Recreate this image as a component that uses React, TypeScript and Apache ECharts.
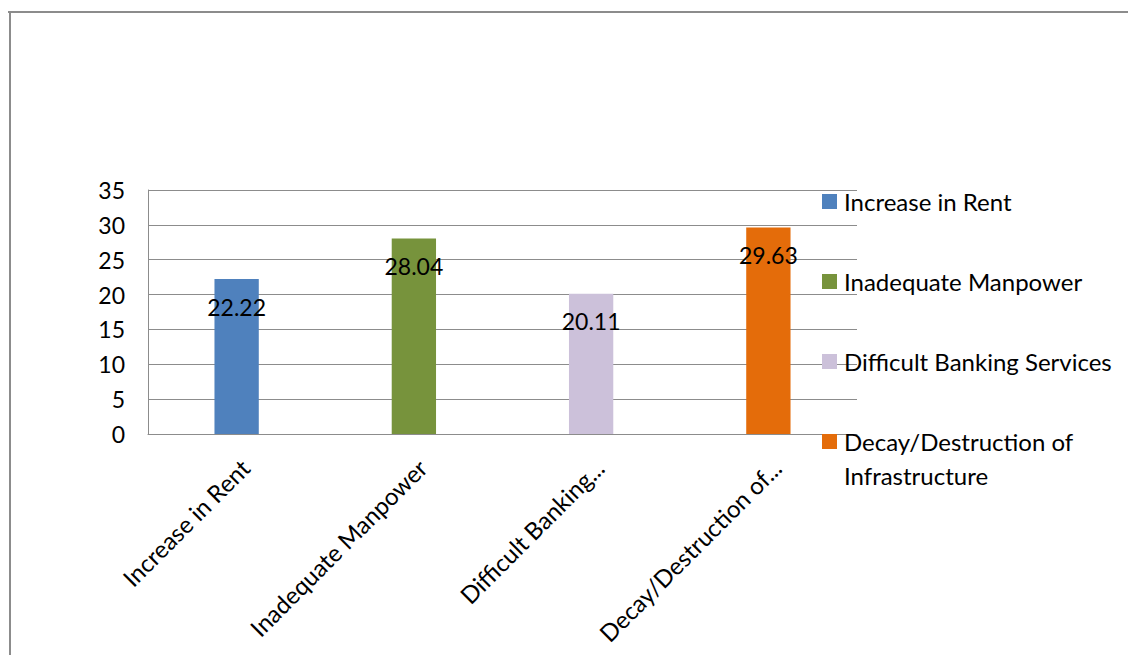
import React, { useEffect, useRef } from "react";
import * as echarts from "echarts";

const categories = [
  "Increase in Rent",
  "Inadequate Manpower",
  "Difficult Banking Services",
  "Decay/Destruction of Infrastructure",
];
const tickLabels = [
  "Increase in Rent",
  "Inadequate Manpower",
  "Difficult Banking...",
  "Decay/Destruction of...",
];
const values = [22.22, 28.04, 20.11, 29.63];
const colors = ["#4F81BD", "#77933C", "#CCC1DA", "#E46C0A"];
const yTicks = { min: 0, max: 35, interval: 5 };

const FONT = "Lato, 'Open Sans', sans-serif";

export default function App() {
  const ref = useRef<HTMLDivElement>(null);
  useEffect(() => {
    if (!ref.current) return;
    const chart = echarts.init(ref.current, undefined, { renderer: "svg" });
    const series = categories.map((name, i) => ({
      name,
      type: "bar",
      stack: "all",
      barWidth: "25%",
      data: values.map((v, j) => (j === i ? v : null)),
      itemStyle: { color: colors[i] },
      label: {
        show: true,
        position: "insideTop",
        distance: 16,
        color: "#000",
        fontSize: 23,
        fontFamily: FONT,
        formatter: (p: any) => p.value.toFixed(2),
      },
    }));
    chart.setOption({
      animation: false,
      textStyle: { fontFamily: FONT },
      grid: { left: 140, top: 182, right: 271, bottom: 221, containLabel: false },
      xAxis: {
        type: "category",
        data: categories,
        axisTick: { show: false },
        axisLine: { show: true, lineStyle: { color: "#8c8c8c", width: 1 } },
        axisLabel: {
          rotate: 45,
          interval: 0,
          margin: 21,
          color: "#000",
          fontSize: 24,
          fontFamily: FONT,
          align: "right",
          verticalAlign: "top",
          formatter: (_v: string, idx: number) => tickLabels[idx],
        },
      },
      yAxis: {
        type: "value",
        min: yTicks.min,
        max: yTicks.max,
        interval: yTicks.interval,
        axisLine: { show: true, lineStyle: { color: "#8c8c8c", width: 1 } },
        axisTick: { show: false },
        axisLabel: { color: "#000", fontSize: 23, margin: 23, fontFamily: FONT },
        splitLine: { show: true, lineStyle: { color: "#8c8c8c", width: 1 } },
      },
      legend: {
        orient: "vertical",
        left: 814,
        top: 179,
        padding: 0,
        itemWidth: 15,
        itemHeight: 15,
        itemGap: 51,
        icon: "rect",
        data: categories,
        formatter: (name: string) =>
          name === categories[3] ? "Decay/Destruction of" : name,
        textStyle: {
          color: "#000",
          fontSize: 24,
          lineHeight: 29,
          fontFamily: FONT,
          padding: [0, 0, 0, 2],
        },
      },
      graphic: [
        {
          type: "line",
          shape: { x1: 0, y1: 4, x2: 1120, y2: 4 },
          style: { stroke: "#8c8c8c", lineWidth: 2 },
          silent: true,
        },
        {
          type: "line",
          shape: { x1: 2, y1: 3, x2: 2, y2: 647 },
          style: { stroke: "#8c8c8c", lineWidth: 2 },
          silent: true,
        },
        {
          type: "text",
          x: 836,
          y: 467,
          style: {
            text: "Infrastructure",
            fill: "#000",
            font: `24px ${FONT}`,
            verticalAlign: "middle",
          },
        },
      ],
      series,
    });
    return () => chart.dispose();
  }, []);
  return (
    <div
      ref={ref}
      style={{ position: "absolute", left: 8, top: 8, width: 1120, height: 647 }}
    />
  );
}
